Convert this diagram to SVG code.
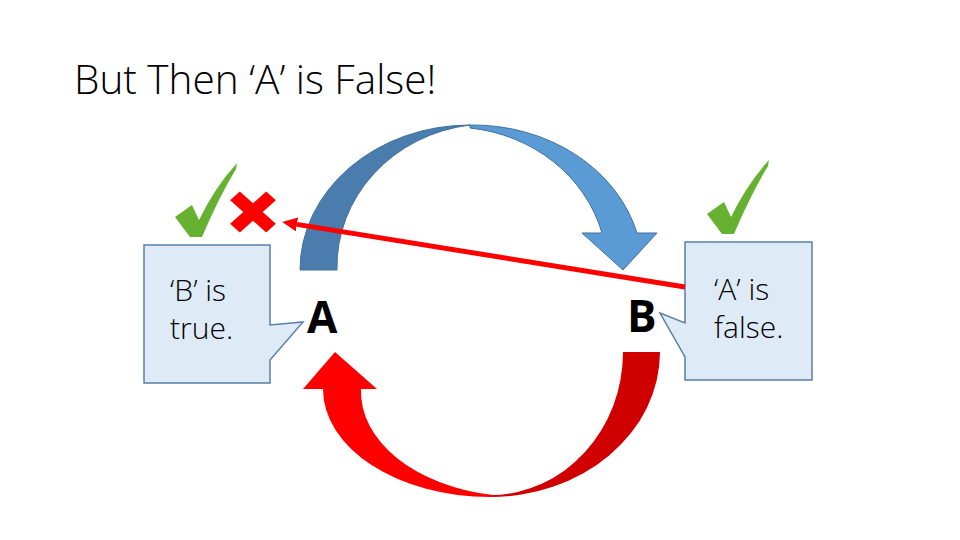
<svg xmlns="http://www.w3.org/2000/svg" width="960" height="540" viewBox="0 0 960 540">
<style>
.txt{font-family:"Open Sans","Liberation Sans",sans-serif;fill:#000}
.lt{font-weight:300}
.box{fill:#DEEBF7;stroke:#5B7FA6;stroke-width:1.5}
.check{fill:#66B032}
</style>
<defs>
<marker id="ah" markerWidth="3" markerHeight="2.8" refX="0" refY="1.4" orient="auto" markerUnits="strokeWidth">
<path d="M0,0 L3,1.4 L0,2.8 Z" fill="#FF0000"/>
</marker>
<path id="tick" d="M0,54 L17,42 L24,57 Q40,24 62,0 L61,6 Q44,34 27,74 L15,74 Z"/>
</defs>
<rect width="960" height="540" fill="#FFFFFF"/>
<text class="txt lt" x="74" y="94" font-size="40.5" id="title">But Then ‘A’ is False!</text>

<g id="loopTop">
<path d="M300,270 A170,145 0 0 1 470,125 A153,143 0 0 0 337,270 Z" fill="#4A7CAD" stroke="#41719C" stroke-width="1"/>
<path d="M470,125 A170,145 0 0 1 637,233 L657,233 L623,270 L582,233 L602,233 A155,143 0 0 0 470,128 Z" fill="#5B9BD5" stroke="#41719C" stroke-width="1"/>
</g>
<g id="loopBottom">
<path d="M660,352 A170,145 0 0 1 488,497 L492,495 A133,143 0 0 0 623,352 Z" fill="#D00000"/>
<path d="M490,497 A167,108 0 0 1 323,389 L303,389 L335,352 L377,389 L361,389 A159,105 0 0 0 493,495 Z" fill="#FF0000"/>
</g>

<g id="nodeA"><text class="txt" x="307" y="333" font-size="44" font-weight="bold">A</text></g>
<g id="nodeB"><text class="txt" x="627" y="332" font-size="44" font-weight="bold">B</text></g>

<g id="calloutLeft">
<path class="box" d="M144,245 L270,245 L270,325 L303,322 L270,360 L270,383 L144,383 Z"/>
<text class="txt lt" x="170" y="301" font-size="30">‘B’ is</text>
<text class="txt lt" x="170" y="339" font-size="30">true.</text>
</g>
<g id="calloutRight">
<path class="box" d="M685,242 L812,242 L812,380 L685,380 L685,357 L660,313 L685,323 Z"/>
<text class="txt lt" x="714" y="300" font-size="30">‘A’ is</text>
<text class="txt lt" x="714" y="338" font-size="30">false.</text>
</g>

<g id="checkLeft"><use href="#tick" class="check" x="175" y="163"/></g>
<g id="checkRight"><use href="#tick" class="check" x="707" y="160"/></g>
<g id="crossLeft">
<polygon transform="translate(253,212) scale(0.98,0.88) rotate(45)" points="-7,-26 7,-26 7,-7 26,-7 26,7 7,7 7,26 -7,26 -7,7 -26,7 -26,-7 -7,-7" fill="#FF0000"/>
</g>

<g id="connectors">
<line x1="685" y1="287" x2="297" y2="224.4" stroke="#FF0000" stroke-width="5" marker-end="url(#ah)"/>
</g>
</svg>
